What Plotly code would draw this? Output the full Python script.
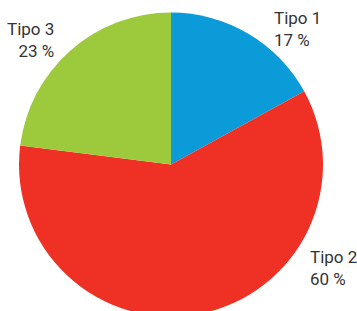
import plotly.graph_objects as go

categories = ["Tipo 1", "Tipo 2", "Tipo 3"]
values = [17, 60, 23]
colors = ["#0a9bd8", "#ee3124", "#9dc93c"]

W, H = 357, 320

def px(x):
    return x / W

def py(y):
    return 1 - y / H

fig = go.Figure(go.Pie(
    labels=categories,
    values=values,
    marker=dict(colors=colors, line=dict(width=0)),
    sort=False,
    direction="clockwise",
    rotation=0,
    textinfo="none",
    hoverinfo="label+percent",
    showlegend=False,
    domain=dict(x=[px(19), px(323)], y=[py(316.5), py(12.5)]),
))

# label positions (pixel) and alignment
label_pos = {
    "Tipo 1": (273, 7, "left"),
    "Tipo 2": (309, 246, "left"),
    "Tipo 3": (55, 18, "right"),
}

for cat, val in zip(categories, values):
    x, y, al = label_pos[cat]
    fig.add_annotation(
        x=px(x), y=py(y), xref="paper", yref="paper",
        xanchor=al, yanchor="top", align=al,
        text=f"{cat}<br>{val} %", showarrow=False,
        font=dict(family="Roboto", size=17, color="#333333"),
        borderpad=0,
    )

fig.update_layout(
    width=W, height=H,
    margin=dict(l=0, r=0, t=0, b=0),
    paper_bgcolor="white",
    plot_bgcolor="white",
)

fig.write_html(
    "out.html",
    config={"displayModeBar": False},
    post_script="document.body.style.margin='0';document.body.style.overflow='hidden';document.documentElement.style.overflow='hidden';",
)
